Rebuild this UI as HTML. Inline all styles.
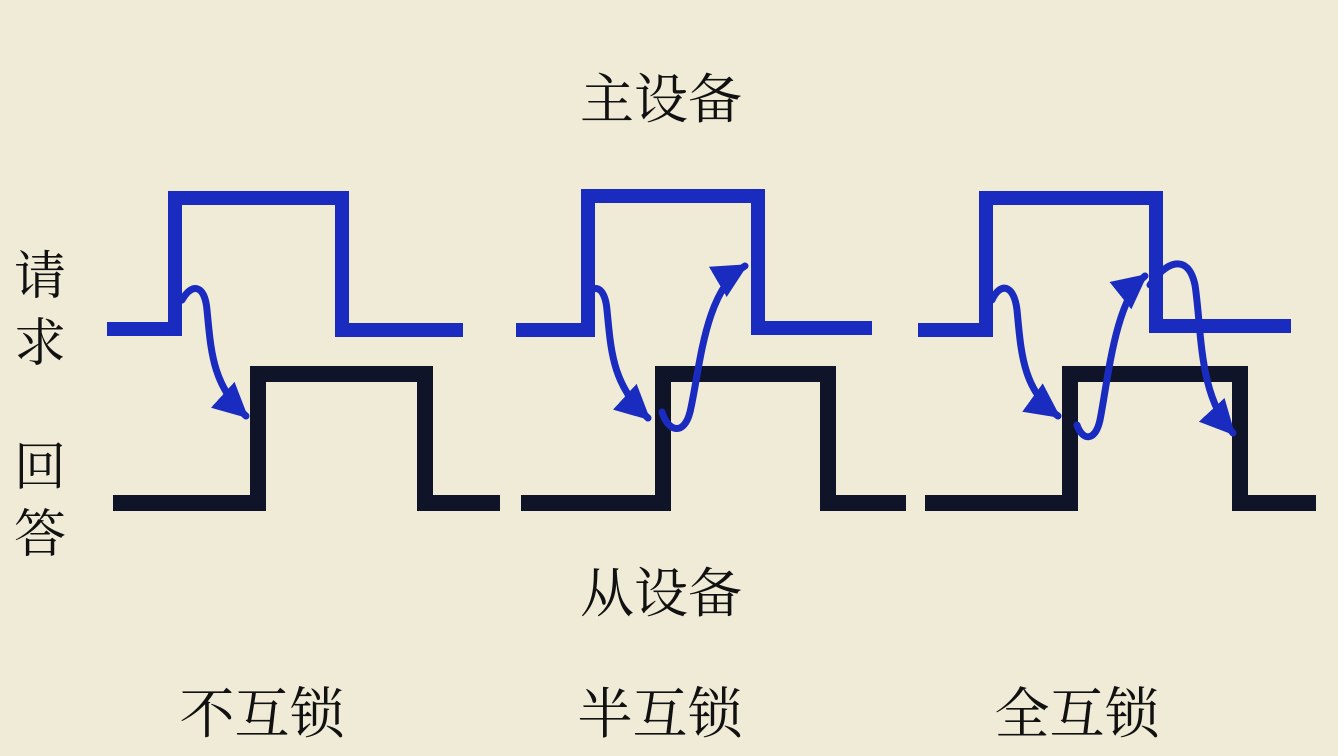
<!DOCTYPE html>
<html><head><meta charset="utf-8"><style>
html,body{margin:0;padding:0;background:#f0ebd7;}
svg{display:block}
text{font-family:"Liberation Serif","Noto Serif CJK SC",serif;fill:#111;}
</style></head><body>
<svg width="1338" height="756" viewBox="0 0 1338 756">
<defs>
<marker id="ah" viewBox="0 0 10 10" refX="9" refY="5" markerWidth="5" markerHeight="5" orient="auto" markerUnits="strokeWidth">
<path d="M0,0 L10,5 L0,10 z" fill="#1a2bbf"/></marker>
</defs>
<rect width="1338" height="756" fill="#f0ebd7"/>
<text x="661" y="118" font-size="54" text-anchor="middle">主设备</text>
<text x="661" y="612" font-size="54" text-anchor="middle">从设备</text>
<text x="40" y="294" font-size="52" text-anchor="middle">请</text>
<text x="40" y="361" font-size="52" text-anchor="middle">求</text>
<text x="40" y="485" font-size="52" text-anchor="middle">回</text>
<text x="40" y="552" font-size="52" text-anchor="middle">答</text>
<text x="262" y="733" font-size="55" text-anchor="middle">不互锁</text>
<text x="660" y="733" font-size="55" text-anchor="middle">半互锁</text>
<text x="1077" y="733" font-size="55" text-anchor="middle">全互锁</text>
<g fill="none" stroke="#1a2bbf" stroke-width="14">
<path d="M107,329 H175 V198 H342 V330 H463"/>
<path d="M516,330 H588 V196 H758 V328 H872"/>
<path d="M918,330 H986 V198 H1156 V326 H1291"/>
</g>
<g fill="none" stroke="#0f1428" stroke-width="16">
<path d="M113,503 H258 V374 H425 V503 H500"/>
<path d="M521,503 H663 V374 H828 V503 H906"/>
<path d="M925,503 H1070 V374 H1240 V503 H1316"/>
</g>
<g fill="none" stroke="#1a2bbf" stroke-width="7" stroke-linecap="round">
<path d="M182,300 C192,282 205,285 207,310 C211,350 212,385 246,416" marker-end="url(#ah)"/>
<path d="M585,300 C592,282 605,285 607,310 C611,350 612,385 648,418" marker-end="url(#ah)"/>
<path d="M662,412 C668,432 684,436 690,412 C700,370 704,290 745,266" marker-end="url(#ah)"/>
<path d="M992,300 C1000,282 1014,284 1017,310 C1021,350 1022,390 1058,416" marker-end="url(#ah)"/>
<path d="M1077,425 C1082,440 1095,443 1100,420 C1108,380 1115,300 1145,276" marker-end="url(#ah)"/>
<path d="M1150,285 C1165,262 1188,252 1195,285 C1202,330 1198,395 1233,433" marker-end="url(#ah)"/>
</g>
</svg>
</body></html>
